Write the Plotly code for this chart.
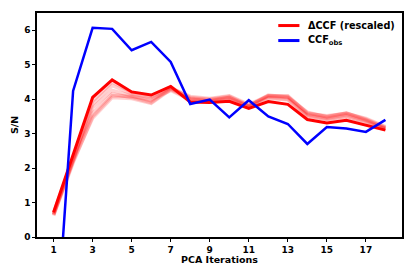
import plotly.graph_objects as go

iterations = list(range(1, 19))
ccf_obs = [-3.98, 4.24, 6.07, 6.04, 5.42, 5.66, 5.08, 3.86, 3.99, 3.47, 3.97, 3.50, 3.28, 2.70, 3.19, 3.15, 3.05, 3.40]
delta_ccf = [0.72, 2.40, 4.05, 4.56, 4.21, 4.12, 4.37, 3.92, 3.90, 3.94, 3.73, 3.93, 3.85, 3.41, 3.31, 3.39, 3.24, 3.10]

faint_1 = [0.65, 2.20, 3.45, 4.05, 4.02, 3.88, 4.28, 4.00, 3.95, 4.05, 3.80, 4.10, 4.08, 3.60, 3.50, 3.60, 3.42, 3.18]
faint_2 = [0.68, 2.25, 3.60, 4.15, 4.05, 3.90, 4.30, 4.05, 4.00, 4.08, 3.82, 4.08, 4.05, 3.55, 3.45, 3.55, 3.38, 3.15]
faint_3 = [0.70, 2.30, 3.75, 4.25, 4.10, 3.95, 4.32, 4.08, 4.02, 4.10, 3.85, 4.10, 4.10, 3.58, 3.52, 3.58, 3.44, 3.20]
faint_4 = [0.62, 2.15, 3.50, 4.10, 4.08, 4.00, 4.25, 3.98, 3.95, 4.00, 3.78, 4.05, 4.00, 3.50, 3.42, 3.50, 3.35, 3.12]
faint_5 = [0.66, 2.28, 3.85, 4.40, 4.15, 4.05, 4.35, 4.02, 3.98, 4.05, 3.80, 4.12, 4.06, 3.62, 3.48, 3.60, 3.40, 3.17]
faint_6 = [0.64, 2.20, 3.95, 4.50, 4.20, 4.08, 4.36, 3.95, 3.92, 3.98, 3.76, 4.02, 3.98, 3.52, 3.40, 3.48, 3.32, 3.14]
faint_series = [faint_1, faint_2, faint_3, faint_4, faint_5, faint_6]

x_ticks = [1, 3, 5, 7, 9, 11, 13, 15, 17]
y_ticks = [0, 1, 2, 3, 4, 5, 6]

legend_labels = ["ΔCCF (rescaled)", "CCF<sub>obs</sub>"]
legend_colors = ["red", "blue"]

font_family = "DejaVu Sans"

fig = go.Figure()
for fs in faint_series:
    fig.add_trace(go.Scatter(x=iterations, y=fs, mode="lines",
                             line=dict(color="red", width=3.5), opacity=0.18,
                             showlegend=False, hoverinfo="skip"))
fig.add_trace(go.Scatter(x=iterations, y=delta_ccf, mode="lines",
                         line=dict(color="red", width=3), name=legend_labels[0],
                         showlegend=False))
fig.add_trace(go.Scatter(x=iterations, y=ccf_obs, mode="lines",
                         line=dict(color="blue", width=2.5), name=legend_labels[1],
                         showlegend=False))

axis_common = dict(showgrid=False, zeroline=False, showline=True, linecolor="black",
                   linewidth=1.5, mirror=True, ticks="outside", ticklen=3,
                   tickwidth=1, tickcolor="black", automargin=False,
                   tickfont=dict(family=font_family, size=9, color="black", weight="bold"))

fig.update_xaxes(range=[0.15, 18.85], tickvals=x_ticks, **axis_common)
fig.update_yaxes(range=[0, 6.5], tickvals=y_ticks, **axis_common)

title_font = dict(family=font_family, size=9.5, color="black", weight="bold")
# axis titles
fig.add_annotation(text="PCA Iterations", xref="paper", yref="paper", x=0.5, y=-0.1,
                   xanchor="center", yanchor="middle", showarrow=False, font=title_font)
fig.add_annotation(text="S/N", xref="paper", yref="paper", x=-0.063, y=0.5, textangle=-90,
                   xanchor="center", yanchor="middle", showarrow=False, font=title_font)

# legend
legend_font = dict(family=font_family, size=9.7, color="black", weight="bold")
row_y = [0.944, 0.877]
for label, color, ry in zip(legend_labels, legend_colors, row_y):
    fig.add_shape(type="line", xref="paper", yref="paper", x0=0.661, x1=0.719, y0=ry, y1=ry,
                  line=dict(color=color, width=3))
    fig.add_annotation(text=label, xref="paper", yref="paper", x=0.737, y=ry,
                       xanchor="left", yanchor="middle", showarrow=False, font=legend_font)

fig.update_layout(
    width=415, height=277,
    margin=dict(l=37, r=13, t=13, b=40, autoexpand=False),
    plot_bgcolor="white", paper_bgcolor="white",
    showlegend=False,
)

fig.write_html("out.html", config={"displayModeBar": False},
               post_script="document.body.style.margin='0';document.body.style.overflow='hidden';")
